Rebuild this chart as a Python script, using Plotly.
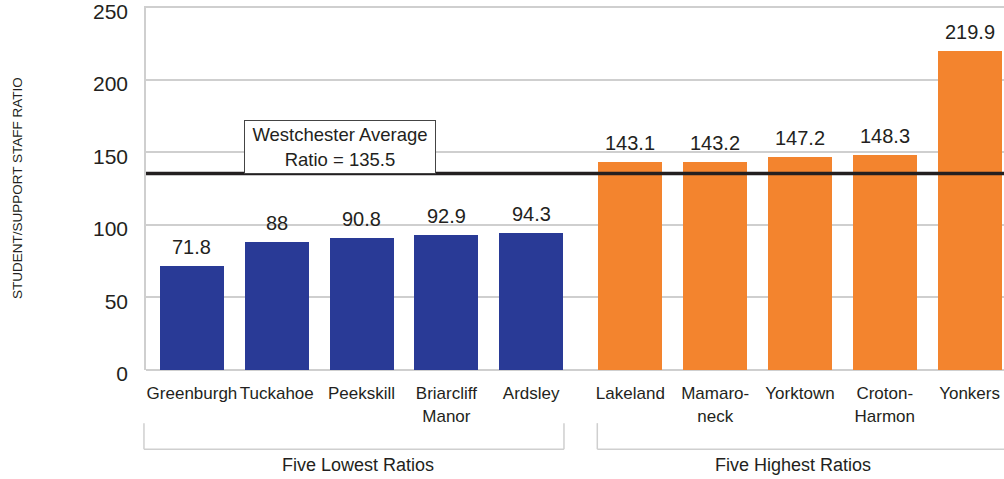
import plotly.graph_objects as go

low_names = ["Greenburgh", "Tuckahoe", "Peekskill", "Briarcliff<br>Manor", "Ardsley"]
low_values = [71.8, 88, 90.8, 92.9, 94.3]
high_names = ["Lakeland", "Mamaro-<br>neck", "Yorktown", "Croton-<br>Harmon", "Yonkers"]
high_values = [143.1, 143.2, 147.2, 148.3, 219.9]
group_labels = ["Five Lowest Ratios", "Five Highest Ratios"]
average_value = 135.5
average_label = "Westchester Average<br>Ratio = 135.5"
y_title = "STUDENT/SUPPORT STAFF RATIO"
y_ticks = [0, 50, 100, 150, 200, 250]

BLUE = "#293a96"
ORANGE = "#f3842e"
TEXT = "#231f20"
GRID = "#cfcfcf"
FONT = "Liberation Sans, Arial, sans-serif"

GAP = 0.17
low_x = [i for i in range(len(low_values))]
high_x = [len(low_values) + GAP + i for i in range(len(high_values))]
X0, X1 = -0.542, 9.576
BARW = 0.755

def px(x):
    return (x - X0) / (X1 - X0)

fig = go.Figure()
fig.add_trace(go.Bar(x=low_x, y=low_values, marker_color=BLUE, width=BARW, marker_line_width=0))
fig.add_trace(go.Bar(x=high_x, y=high_values, marker_color=ORANGE, width=BARW, marker_line_width=0))

# value labels
for xs, vs in ((low_x, low_values), (high_x, high_values)):
    for x, v in zip(xs, vs):
        fig.add_annotation(x=x, y=v, text=f"{v:g}", showarrow=False, yanchor="bottom",
                           yshift=6, font=dict(family=FONT, size=20, color=TEXT))

# average line
fig.add_shape(type="line", xref="paper", x0=0, x1=1, yref="y", y0=average_value, y1=average_value,
              line=dict(color=TEXT, width=3.5), layer="above")
fig.add_annotation(x=1.74, y=average_value, text=average_label, showarrow=False, yanchor="bottom",
                   xanchor="center", bgcolor="white", bordercolor="#444444", borderwidth=1,
                   borderpad=0, width=190, height=52,
                   font=dict(family=FONT, size=18.5, color=TEXT))

# group brackets
bl, br = px(low_x[0] - 0.566), px(low_x[-1] + 0.387)
hl, hr = px(high_x[0] - 0.39), px(high_x[-1] + 0.6)
yb, yt, yl = -0.2176, -0.146, -0.262
for a, b, right in ((bl, br, True), (hl, hr, False)):
    fig.add_shape(type="line", xref="paper", yref="paper", x0=a, x1=b, y0=yb, y1=yb,
                  line=dict(color=GRID, width=1.5))
    fig.add_shape(type="line", xref="paper", yref="paper", x0=a, x1=a, y0=yb, y1=yt,
                  line=dict(color=GRID, width=1.5))
    if right:
        fig.add_shape(type="line", xref="paper", yref="paper", x0=b, x1=b, y0=yb, y1=yt,
                      line=dict(color=GRID, width=1.5))
fig.add_annotation(xref="paper", yref="paper", x=px((low_x[0] + low_x[-1]) / 2 - 0.04), y=yl,
                   xanchor="center", yanchor="middle",
                   text=group_labels[0], showarrow=False, font=dict(family=FONT, size=18, color=TEXT))
fig.add_annotation(xref="paper", yref="paper", x=px((high_x[0] + high_x[-1]) / 2 - 0.08), y=yl,
                   xanchor="center", yanchor="middle",
                   text=group_labels[1], showarrow=False, font=dict(family=FONT, size=18, color=TEXT))

fig.add_annotation(xref="paper", yref="paper", x=(17 - 146) / 858, y=0.5, text=y_title,
                   textangle=-90, showarrow=False, xanchor="center", yanchor="middle",
                   font=dict(family=FONT, size=13.5, color=TEXT))

fig.update_layout(
    width=1004, height=479,
    margin=dict(l=146, r=0, t=6, b=109, autoexpand=False),
    paper_bgcolor="white", plot_bgcolor="white",
    showlegend=False, bargap=0,
    xaxis=dict(range=[X0, X1], tickvals=low_x + high_x, ticktext=low_names + high_names,
               tickangle=0, automargin=False,
               tickfont=dict(family=FONT, size=17, color=TEXT), ticks="outside", ticklen=8,
               tickcolor="rgba(0,0,0,0)", showgrid=False, zeroline=False, showline=False),
    yaxis=dict(range=[0, 251], tickvals=y_ticks, automargin=False,
               ticklabeloverflow="allow", ticklabelshift=4,
               tickfont=dict(family=FONT, size=21, color=TEXT),
               ticks="outside", ticklen=12, tickcolor="rgba(0,0,0,0)",
               showgrid=True, gridcolor=GRID, gridwidth=1.5,
               zeroline=True, zerolinecolor=GRID, zerolinewidth=1.5,
               showline=True, linecolor=GRID, linewidth=1.5),
)

fig.write_html("out.html", config={"displayModeBar": False},
               post_script="document.body.style.margin='0px';")
